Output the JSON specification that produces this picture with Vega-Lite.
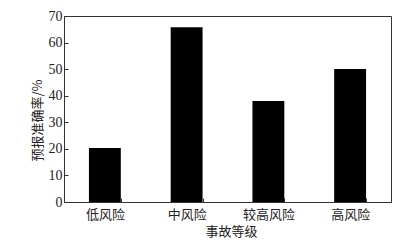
{
  "$schema": "https://vega.github.io/schema/vega-lite/v6.json",
  "width": 327,
  "height": 186,
  "autosize": {"type": "none"},
  "padding": {"left": 64, "top": 16, "right": 15, "bottom": 38},
  "background": "white",
  "data": {
    "values": [
      {"level": "低风险", "accuracy": 20.3},
      {"level": "中风险", "accuracy": 65.8},
      {"level": "较高风险", "accuracy": 38.0},
      {"level": "高风险", "accuracy": 50.1}
    ]
  },
  "mark": {"type": "bar", "color": "black"},
  "encoding": {
    "x": {
      "field": "level",
      "type": "nominal",
      "sort": null,
      "scale": {"paddingInner": 0.61, "paddingOuter": 0.305},
      "axis": {
        "title": "事故等级",
        "labelAngle": 0,
        "tickBand": "extent",
        "tickSize": -4,
        "labelPadding": 10,
        "titlePadding": 4,
        "titleX": 167
      }
    },
    "y": {
      "field": "accuracy",
      "type": "quantitative",
      "scale": {"domain": [0, 70], "nice": false},
      "axis": {
        "title": "预报准确率/%",
        "values": [0, 10, 20, 30, 40, 50, 60, 70],
        "grid": false,
        "tickSize": -4,
        "labelPadding": 6,
        "titlePadding": 4,
        "titleY": 104,
        "labelFont": "Liberation Serif",
        "labelFontSize": 14
      }
    }
  },
  "config": {
    "view": {"stroke": "#333", "strokeWidth": 1},
    "axis": {
      "domainColor": "#333",
      "tickColor": "#333",
      "labelColor": "#222",
      "titleColor": "#222",
      "labelFont": "Noto Sans CJK SC",
      "titleFont": "Noto Sans CJK SC",
      "labelFontSize": 13,
      "titleFontSize": 13,
      "titleFontWeight": "normal"
    }
  }
}
